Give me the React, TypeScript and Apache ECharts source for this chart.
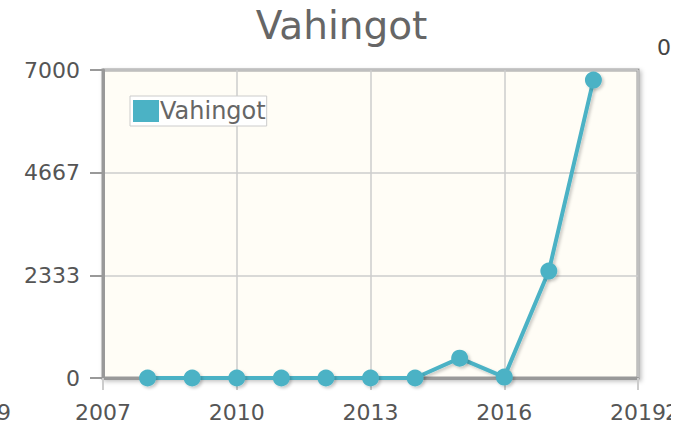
import React, { useEffect, useRef } from "react";
import * as echarts from "echarts";

const years = [2008, 2009, 2010, 2011, 2012, 2013, 2014, 2015, 2016, 2017, 2018];
const values = [0, 0, 0, 0, 0, 0, 0, 450, 20, 2430, 6770];
const seriesName = "Vahingot";
const titleText = "Vahingot";

export default function App() {
  const ref = useRef<HTMLDivElement>(null);
  useEffect(() => {
    const chart = echarts.init(ref.current!, null, { renderer: "svg" });
    const font = "'DejaVu Sans', sans-serif";
    chart.setOption({
      animation: false,
      backgroundColor: "#ffffff",
      title: {
        text: titleText,
        left: "center",
        top: 1,
        textStyle: { fontFamily: font, fontSize: 39, fontWeight: "normal", color: "#666666" },
      },
      legend: {
        show: true,
        left: 130,
        top: 96,
        orient: "vertical",
        backgroundColor: "#ffffff",
        borderColor: "#cccccc",
        borderWidth: 1,
        padding: [3, 1, 3, 3],
        itemWidth: 26,
        itemHeight: 22,
        itemGap: 2,
        icon: "rect",
        textStyle: { fontFamily: font, fontSize: 24, color: "#666666", padding: [0, 0, 0, -4] },
        data: [{ name: seriesName, icon: "rect" }],
      },
      grid: {
        left: 103,
        right: 45,
        top: 70,
        bottom: 52,
        show: true,
        backgroundColor: "#fffdf6",
        borderColor: "#999999",
        borderWidth: 3,
        shadowColor: "rgba(0,0,0,0.25)",
        shadowBlur: 4,
        shadowOffsetX: 2,
        shadowOffsetY: 2,
      },
      xAxis: {
        type: "value",
        min: 2007,
        max: 2019,
        interval: 3,
        axisLine: { show: true, lineStyle: { color: "#999999", width: 3 } },
        axisTick: { show: true, length: 12, lineStyle: { color: "#cccccc", width: 2 } },
        splitLine: { show: true, lineStyle: { color: "#cccccc", width: 1.5 } },
        axisLabel: {
          margin: 23,
          fontFamily: font,
          fontSize: 22,
          color: "#555555",
          showMinLabel: true,
          showMaxLabel: true,
          formatter: (v: number) => String(Math.round(v)),
        },
      },
      yAxis: {
        type: "value",
        min: 0,
        max: 7000,
        interval: 7000 / 3,
        axisLine: { show: true, lineStyle: { color: "#999999", width: 3 } },
        axisTick: { show: true, length: 13, lineStyle: { color: "#999999", width: 2 } },
        splitLine: { show: true, lineStyle: { color: "#cccccc", width: 1.5 } },
        axisLabel: {
          margin: 23,
          fontFamily: font,
          fontSize: 22,
          color: "#555555",
          formatter: (v: number) => String(Math.round(v)),
        },
      },
      series: [
        {
          name: seriesName,
          type: "line",
          data: years.map((y, i) => [y, values[i]]),
          color: "#4bb2c5",
          symbol: "circle",
          symbolSize: 17,
          lineStyle: {
            width: 4,
            color: "#4bb2c5",
            shadowColor: "rgba(0,0,0,0.2)",
            shadowBlur: 3,
            shadowOffsetX: 2,
            shadowOffsetY: 2,
          },
          itemStyle: { color: "#4bb2c5", shadowColor: "rgba(0,0,0,0.2)", shadowBlur: 3, shadowOffsetX: 2, shadowOffsetY: 2 },
        },
      ],
      graphic: [
        { type: "text", left: 657, top: 36, z: 10, style: { text: "0", fontFamily: font, fontSize: 22, fill: "#444444" } },
        { type: "text", left: 665, top: 401, z: 10, style: { text: "2", fontFamily: font, fontSize: 22, fill: "#555555" } },
        { type: "text", left: -45, top: 401, z: 10, style: { text: "2009", fontFamily: font, fontSize: 22, fill: "#555555" } },
        { type: "rect", left: 671, top: 0, z: 20, shape: { width: 12, height: 430 }, style: { fill: "#ffffff" } },
      ],
    });
    return () => chart.dispose();
  }, []);
  return <div ref={ref} style={{ width: 683, height: 430, position: "absolute", left: 0, top: 0 }} />;
}
